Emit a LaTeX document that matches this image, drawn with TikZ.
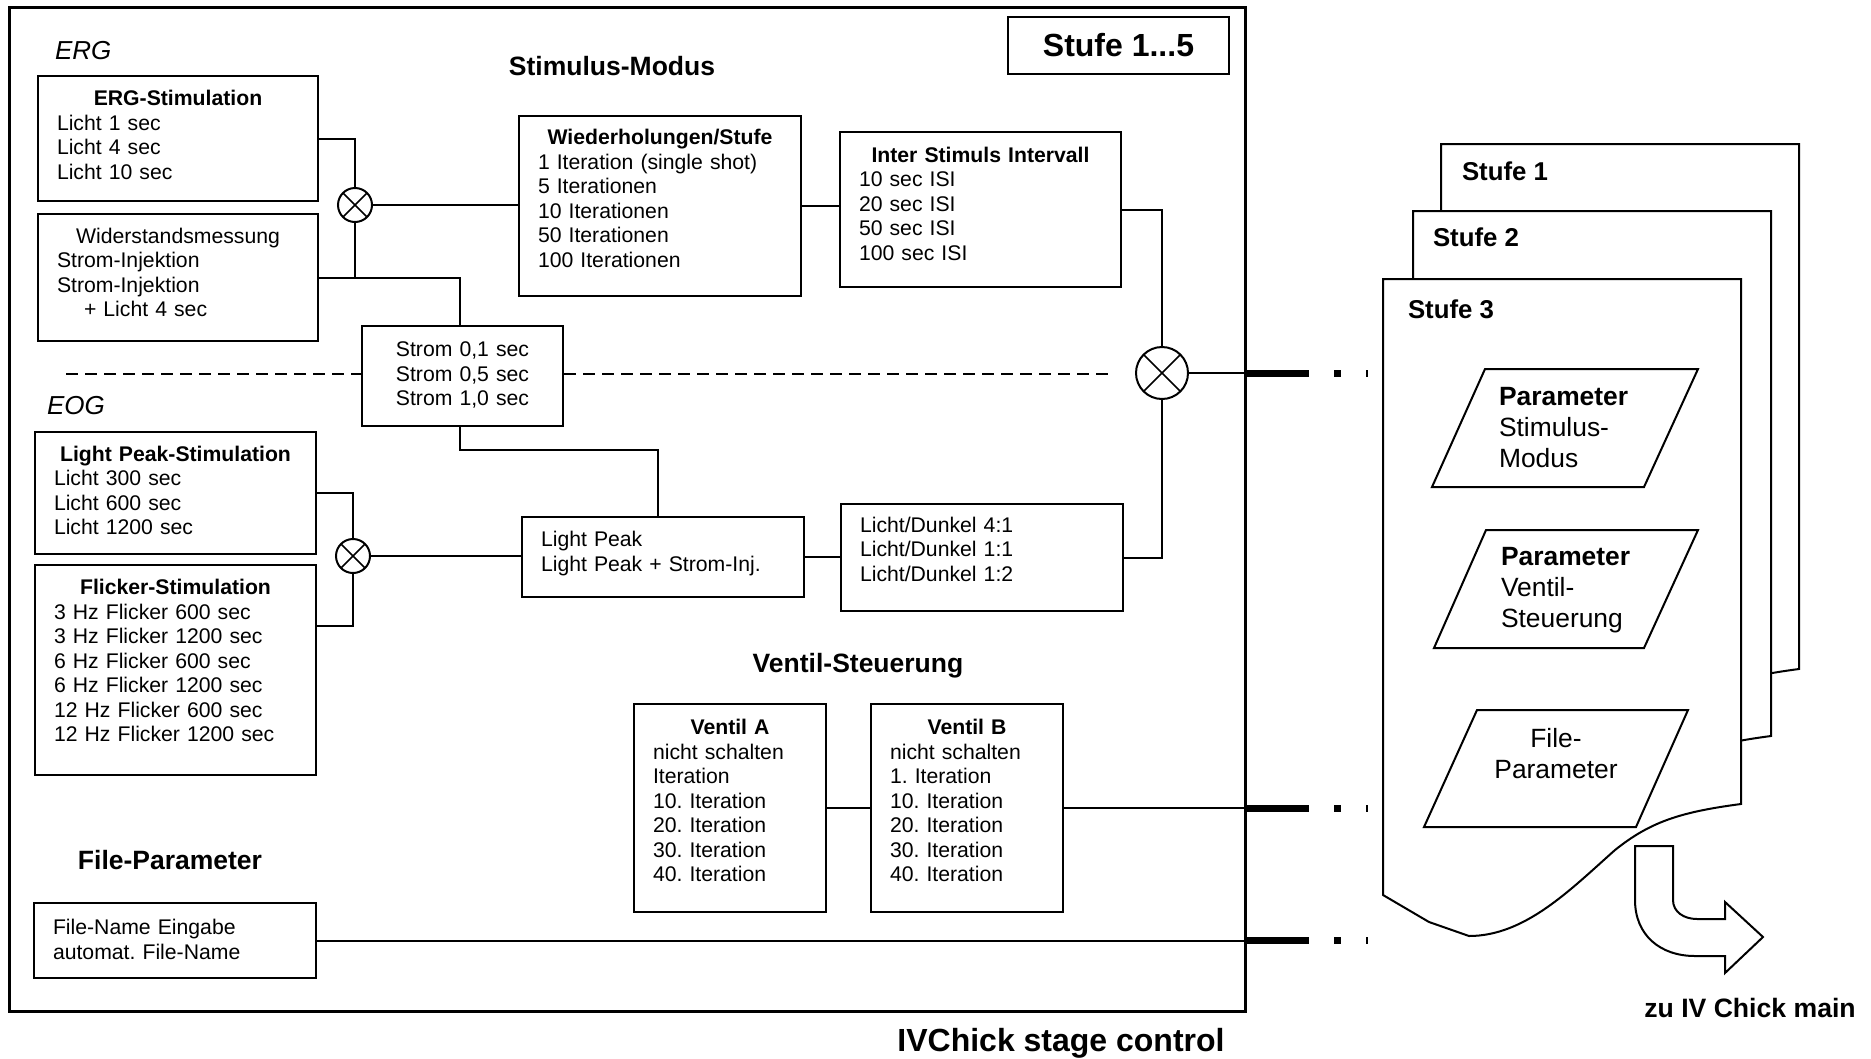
\documentclass[tikz,border=0pt]{standalone}
\usepackage{fontspec}
\setmainfont{Liberation Sans}
\usepackage{tikz}
\setlength{\parindent}{0pt}
\frenchspacing
\newcommand{\klein}{\fontsize{21.2pt}{24.5pt}\selectfont}
\newcommand{\mittel}{\fontsize{26.5pt}{31pt}\selectfont}
\newcommand{\gross}{\fontsize{32pt}{36pt}\selectfont}

\begin{document}
\begin{tikzpicture}
	[x=1pt, y=-1pt, line width=2pt, inner sep=0pt,
	kasten/.style={draw, fill=white, anchor=north west, inner xsep=19pt, inner ysep=0pt, font=\klein},
	mischer/.style={circle, draw, fill=white, path picture={\draw[line width=1.5pt]
		(path picture bounding box.north west) -- (path picture bounding box.south east)
		(path picture bounding box.south west) -- (path picture bounding box.north east);}},
	ueber/.style={font=\mittel\bfseries, anchor=base},
	gruppe/.style={font=\fontsize{26pt}{30pt}\selectfont\itshape, anchor=base west},
	para/.style={font=\fontsize{26.4pt}{31pt}\selectfont},
	trenn/.style={line width=1.5pt, dash pattern=on 12pt off 7pt},
	abbruch/.style={line width=7pt, dash pattern=on 62pt off 25pt on 7pt off 25pt on 1.5pt off 40pt}]

	\useasboundingbox (0,0) rectangle (1871,1058);

	% Rahmen
	\node[draw, line width=3pt, anchor=north west, minimum width=1236pt, minimum height=1004pt] (R) at (8,6) {};
	\node[draw, font=\gross\bfseries, minimum width=221pt, minimum height=57pt] (S15) at (1118.5,45.5) {Stufe 1...5};

	\node[gruppe] (erg) at (54,59.5) {ERG};
	\node[gruppe] (eog) at (46,414.5) {EOG};
	\node[ueber] (sm) at (612,75.5) {Stimulus-Modus};
	\node[ueber] (vs) at (858,672.5) {Ventil-Steuerung};
	\node[ueber] (fp) at (170,869.5) {File-Parameter};

	\coordinate (tl) at (66,374);
	\coordinate (tr) at (1109,374);

	% ERG
	\node[kasten, text width=242pt, minimum height=125pt] (ERG) at (37,75)
		{\centering\textbf{ERG-Stimulation}\par\raggedright Licht 1 sec\\ Licht 4 sec\\ Licht 10 sec\par\kern7pt};
	\node[kasten, text width=242pt, minimum height=127pt] (W) at (37,213)
		{\centering Widerstandsmessung\par\raggedright Strom-Injektion\\ Strom-Injektion\\ \hspace*{27pt}+ Licht 4 sec\par\kern10pt};
	\node[mischer, minimum size=34pt] (mA) at (355,205) {};
	\node[kasten, text width=244pt, minimum height=180pt] (WDH) at (518,115)
		{\centering\textbf{Wiederholungen/Stufe}\par\raggedright 1 Iteration (single shot)\\ 5 Iterationen\\ 10 Iterationen\\ 50 Iterationen\\ 100 Iterationen\par\kern15pt};
	\node[kasten, text width=243pt, minimum height=155pt] (ISI) at (839,131)
		{\centering\textbf{Inter Stimuls Intervall}\par\raggedright 10 sec ISI\\ 20 sec ISI\\ 50 sec ISI\\ 100 sec ISI\par\kern12pt};
	\node[kasten, text width=163pt, minimum height=100pt] (ST) at (361,325)
		{\centering Strom 0,1 sec\\ Strom 0,5 sec\\ Strom 1,0 sec\par\kern2pt};
	\node[mischer, minimum size=52pt] (mB) at (1162,373) {};

	% EOG
	\node[kasten, text width=243pt, minimum height=122pt] (LPS) at (34,431)
		{\centering\textbf{Light Peak-Stimulation}\par\raggedright Licht 300 sec\\ Licht 600 sec\\ Licht 1200 sec\par\kern5pt};
	\node[kasten, text width=243pt, minimum height=210pt] (FL) at (34,564)
		{\centering\textbf{Flicker-Stimulation}\par\raggedright 3 Hz Flicker 600 sec\\ 3 Hz Flicker 1200 sec\\ 6 Hz Flicker 600 sec\\
		6 Hz Flicker 1200 sec\\ 12 Hz Flicker 600 sec\\ 12 Hz Flicker 1200 sec\par\kern19pt};
	\node[mischer, minimum size=34pt] (mC) at (353,556) {};
	\node[kasten, text width=244pt, minimum height=80pt] (LPK) at (521,516)
		{\raggedright Light Peak\\ Light Peak + Strom-Inj.\par\kern7pt};
	\node[kasten, text width=244pt, minimum height=107pt] (LD) at (840,503)
		{\raggedright Licht/Dunkel 4:1\\ Licht/Dunkel 1:1\\ Licht/Dunkel 1:2\par\kern17pt};

	% Ventile und File
	\node[kasten, text width=154pt, minimum height=208pt] (VA) at (633,703)
		{\centering\textbf{Ventil A}\par\raggedright nicht schalten\\ Iteration\\ 10. Iteration\\ 20. Iteration\\ 30. Iteration\\ 40. Iteration\par\kern15pt};
	\node[kasten, text width=154pt, minimum height=208pt] (VB) at (870,703)
		{\centering\textbf{Ventil B}\par\raggedright nicht schalten\\ 1. Iteration\\ 10. Iteration\\ 20. Iteration\\ 30. Iteration\\ 40. Iteration\par\kern15pt};
	\node[kasten, text width=244pt, minimum height=75pt] (FN) at (33,902)
		{\raggedright File-Name Eingabe\\ automat. File-Name\par\kern2pt};

	\draw[trenn] (tl) -- (tl -| ST.west);
	\draw[trenn] (ST.east |- tr) -- (tr);

	\draw (ERG.east) -| (mA.north);
	\draw (mA.south) -- (mA.south |- W.east);
	\draw (W.east) -| ([xshift=-3pt]ST.north);
	\draw (mA.east) -- (mA.east -| WDH.west);
	\draw (WDH.east) -- (WDH.east -| ISI.west);
	\draw (ISI.east) -| (mB.north);
	\draw (LD.east) -| (mB.south);
	\draw (mB.east) -- (mB.east -| R.east);
	\draw (LPS.east) -| (mC.north);
	\draw (mC.south) |- ([yshift=-62pt]FL.north east);
	\draw (mC.east) -- (mC.east -| LPK.west);
	\draw (LPK.east) -- (LPK.east -| LD.west);
	\draw ([xshift=-3pt]ST.south) -- ++(0,23) -| ([xshift=-5pt]LPK.north);
	\draw (VA.east) -- (VA.east -| VB.west);
	\draw (VB.east) -- (VB.east -| R.east);
	\draw (FN.east) -- (FN.east -| R.east);
	\foreach \q in {mB, VB, FN}
		\draw[abbruch] (\q.east -| R.east) -- ++(130,0);

	% Stufen
	\foreach \dx/\dy/\n/\lx/\ly in {58/-135/1/1403/315, 30/-68/2/1402/314.5, 0/0/3/1407/318} {
		\begin{scope}[shift={(\dx,\dy)}]
			\draw[fill=white] (1383,895) -- (1383,279) -- (1741,279) -- (1741,804)
				.. controls (1680,812) and (1650,822) .. (1615,850)
				.. controls (1570,890) and (1525,936) .. (1469,936) -- (1429,922) -- cycle;
			\node[font=\fontsize{25.8pt}{30pt}\selectfont\bfseries, anchor=base west] (stufe\n) at (\lx,\ly) {Stufe \n};
		\end{scope}
	}

	\draw (1432,487) -- (1485,369) -- (1698,369) -- (1644,487) -- cycle;
	\node[para, align=left, anchor=north west] (p1) at (1498,386) {\textbf{Parameter}\\ Stimulus-\\ Modus};
	\draw (1434,648) -- (1486,530) -- (1698,530) -- (1644,648) -- cycle;
	\node[para, align=left, anchor=north west] (p2) at (1500,546.5) {\textbf{Parameter}\\ Ventil-\\ Steuerung};
	\draw (1424,827) -- (1477,710) -- (1688,710) -- (1636,827) -- cycle;
	\node[para, align=center, anchor=north, font=\fontsize{26.4pt}{30.5pt}\selectfont] (p3) at (1556,727.5) {File-\\ Parameter};

	% Pfeil
	\draw[fill=white] (1635,846) -- (1635,900) .. controls (1635,935) and (1660,956) .. (1695,956)
		-- (1725,956) -- (1725,973) -- (1763,937) -- (1725,902) -- (1725,919) -- (1697,919)
		.. controls (1684,919) and (1673,912) .. (1673,900) -- (1673,846) -- cycle;
	\node[font=\fontsize{26.6pt}{30pt}\selectfont\bfseries, anchor=base] (zu) at (1750,1017.5) {zu IV Chick main};
	\node[font=\gross\bfseries, anchor=base] (ivc) at (1061,1051.5) {IVChick stage control};
\end{tikzpicture}
\end{document}
